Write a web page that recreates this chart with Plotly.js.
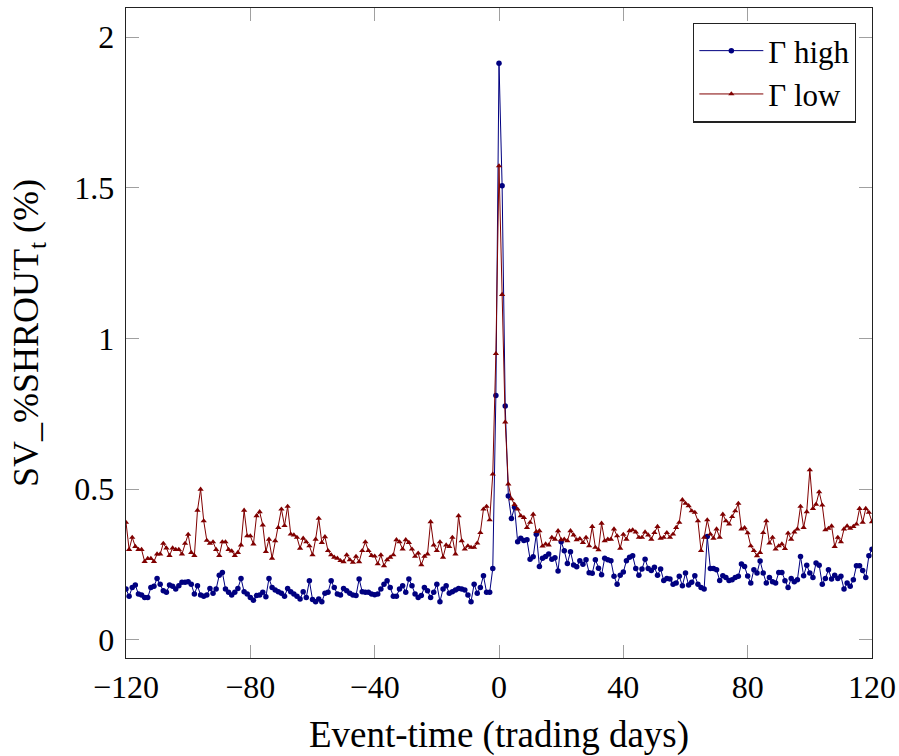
<!DOCTYPE html>
<html>
<head>
<meta charset="utf-8">
<script src="https://cdn.plot.ly/plotly-3.0.1.min.js"></script>
<style>html,body{margin:0;padding:0;background:#fff;}#chart{width:899px;height:756px;}</style>
</head>
<body>
<div id="chart"></div>
<script>
// Event-time axis: trading days -120 ... 120
const eventStart = -120;
const eventEnd = 120;

// SV_%SHROUT_t (%) for the Gamma-high group, event days -120 ... 120
const gammaHigh = [
  0.169, 0.145, 0.174, 0.182, 0.152, 0.149, 0.141, 0.141, 0.174, 0.178,
  0.204, 0.185, 0.163, 0.158, 0.182, 0.178, 0.169, 0.180, 0.191, 0.191,
  0.193, 0.185, 0.152, 0.180, 0.149, 0.145, 0.149, 0.171, 0.155, 0.169,
  0.215, 0.224, 0.169, 0.158, 0.149, 0.158, 0.171, 0.204, 0.160, 0.152,
  0.141, 0.132, 0.147, 0.149, 0.158, 0.143, 0.204, 0.174, 0.166, 0.160,
  0.155, 0.145, 0.171, 0.160, 0.152, 0.145, 0.136, 0.160, 0.141, 0.196,
  0.134, 0.127, 0.136, 0.127, 0.155, 0.158, 0.196, 0.174, 0.152, 0.149,
  0.171, 0.163, 0.155, 0.149, 0.147, 0.202, 0.160, 0.158, 0.158, 0.152,
  0.150, 0.152, 0.169, 0.185, 0.196, 0.174, 0.145, 0.145, 0.169, 0.180,
  0.158, 0.202, 0.180, 0.152, 0.141, 0.147, 0.174, 0.163, 0.141, 0.158,
  0.185, 0.127, 0.169, 0.180, 0.155, 0.160, 0.166, 0.171, 0.169, 0.166,
  0.149, 0.127, 0.185, 0.155, 0.174, 0.213, 0.158, 0.158, 0.237, 0.811,
  1.914,
  1.507, 0.776, 0.478, 0.403, 0.440, 0.326, 0.337, 0.330, 0.332, 0.268,
  0.276, 0.351, 0.244, 0.271, 0.277, 0.285, 0.268, 0.273, 0.229, 0.326,
  0.296, 0.254, 0.293, 0.249, 0.243, 0.263, 0.251, 0.266, 0.223, 0.221,
  0.266, 0.238, 0.216, 0.271, 0.266, 0.263, 0.211, 0.185, 0.215, 0.225,
  0.263, 0.274, 0.279, 0.237, 0.215, 0.235, 0.268, 0.237, 0.230, 0.241,
  0.215, 0.235, 0.197, 0.204, 0.202, 0.185, 0.189, 0.211, 0.180, 0.222,
  0.182, 0.191, 0.213, 0.185, 0.174, 0.169, 0.343, 0.237, 0.237, 0.233,
  0.197, 0.213, 0.207, 0.197, 0.200, 0.207, 0.211, 0.252, 0.244, 0.212,
  0.189, 0.233, 0.222, 0.262, 0.222, 0.189, 0.207, 0.193, 0.189, 0.224,
  0.224, 0.196, 0.174, 0.204, 0.193, 0.200, 0.277, 0.213, 0.248, 0.222,
  0.207, 0.255, 0.248, 0.185, 0.204, 0.233, 0.202, 0.215, 0.204, 0.211,
  0.169, 0.189, 0.178, 0.200, 0.246, 0.246, 0.230, 0.207, 0.279, 0.301
];

// SV_%SHROUT_t (%) for the Gamma-low group, event days -120 ... 120
const gammaLow = [
  0.390, 0.300, 0.340, 0.310, 0.300, 0.300, 0.260, 0.270, 0.270, 0.260,
  0.285, 0.285, 0.320, 0.305, 0.280, 0.305, 0.300, 0.300, 0.285, 0.320,
  0.350, 0.290, 0.280, 0.430, 0.500, 0.395, 0.330, 0.320, 0.325, 0.300,
  0.280, 0.325, 0.325, 0.300, 0.295, 0.280, 0.290, 0.315, 0.430, 0.345,
  0.345, 0.318, 0.412, 0.425, 0.381, 0.293, 0.334, 0.271, 0.329, 0.373,
  0.434, 0.379, 0.443, 0.351, 0.348, 0.340, 0.304, 0.337, 0.325, 0.312,
  0.282, 0.334, 0.403, 0.323, 0.342, 0.296, 0.282, 0.274, 0.271, 0.263,
  0.259, 0.282, 0.266, 0.257, 0.277, 0.259, 0.296, 0.325, 0.296, 0.280,
  0.278, 0.252, 0.282, 0.246, 0.266, 0.274, 0.282, 0.332, 0.325, 0.301,
  0.332, 0.323, 0.301, 0.277, 0.288, 0.249, 0.277, 0.285, 0.392, 0.315,
  0.296, 0.325, 0.274, 0.315, 0.310, 0.340, 0.285, 0.412, 0.329, 0.301,
  0.312, 0.307, 0.307, 0.321, 0.356, 0.434, 0.443, 0.398, 0.550, 0.950,
  1.573,
  1.146, 0.723, 0.517, 0.468, 0.449, 0.434, 0.412, 0.406, 0.373, 0.390,
  0.417, 0.359, 0.362, 0.311, 0.318, 0.315, 0.340, 0.334, 0.362, 0.332,
  0.334, 0.329, 0.362, 0.348, 0.332, 0.336, 0.323, 0.340, 0.312, 0.376,
  0.307, 0.299, 0.387, 0.329, 0.334, 0.334, 0.368, 0.345, 0.304, 0.350,
  0.334, 0.362, 0.365, 0.358, 0.340, 0.340, 0.358, 0.348, 0.334, 0.356,
  0.376, 0.337, 0.340, 0.356, 0.340, 0.351, 0.373, 0.390, 0.465, 0.453,
  0.445, 0.428, 0.423, 0.395, 0.296, 0.340, 0.398, 0.351, 0.337, 0.368,
  0.340, 0.417, 0.395, 0.384, 0.409, 0.428, 0.453, 0.368, 0.372, 0.355,
  0.312, 0.296, 0.279, 0.290, 0.356, 0.395, 0.321, 0.340, 0.301, 0.312,
  0.318, 0.303, 0.354, 0.334, 0.358, 0.368, 0.443, 0.373, 0.425, 0.564,
  0.436, 0.450, 0.491, 0.447, 0.365, 0.370, 0.378, 0.310, 0.340, 0.325,
  0.368, 0.378, 0.370, 0.376, 0.384, 0.436, 0.390, 0.436, 0.423, 0.392
];

const xTickVals = [-120, -80, -40, 0, 40, 80, 120];
const yTickVals = [0, 0.5, 1, 1.5, 2];
const seriesNames = ['\u0393 high', '\u0393 low'];

const eventDays = [];
for (let d = eventStart; d <= eventEnd; d++) eventDays.push(d);

const serif = '"Liberation Serif", serif';
const navy = '#000080';
const maroon = '#800000';

const traces = [
  {
    x: eventDays, y: gammaHigh, name: seriesNames[0], type: 'scatter', mode: 'lines+markers',
    line: {color: navy, width: 1},
    marker: {color: navy, size: 5.5, symbol: 'circle'}
  },
  {
    x: eventDays, y: gammaLow, name: seriesNames[1], type: 'scatter', mode: 'lines+markers',
    line: {color: maroon, width: 1},
    marker: {color: maroon, size: 5.5, symbol: 'triangle-up'}
  }
];

const axisCommon = {
  showgrid: false, zeroline: false,
  showline: true, linecolor: '#222', linewidth: 1.3, mirror: 'ticks',
  ticks: 'inside', ticklen: 13, tickwidth: 1, tickcolor: '#a0a0a0',
  tickfont: {family: serif, size: 32, color: '#000'}
};

const layout = {
  width: 899, height: 756,
  margin: {l: 126, r: 27, t: 8, b: 98, pad: 0},
  paper_bgcolor: '#fff', plot_bgcolor: '#fff',
  showlegend: true,
  xaxis: Object.assign({}, axisCommon, {
    range: [-120, 120], tickvals: xTickVals, automargin: false,
    ticklabelstandoff: 0,
    title: {text: 'Event-time (trading days)', font: {family: serif, size: 37, color: '#000'}, standoff: 20}
  }),
  yaxis: Object.assign({}, axisCommon, {
    range: [-0.06, 2.097], tickvals: yTickVals, automargin: false,
    ticklabelstandoff: 4,
    title: {text: 'SV_%SHROUT<sub>t</sub> (%)', font: {family: serif, size: 36, color: '#000'}, standoff: 24}
  }),
  legend: {
    x: 0.9786, y: 0.9774, xanchor: 'right', yanchor: 'top',
    bordercolor: '#222', borderwidth: 1.3, bgcolor: '#fff',
    font: {family: serif, size: 31, color: '#000'},
    itemwidth: 64,
    tracegroupgap: 0
  }
};

Plotly.newPlot('chart', traces, layout, {displayModeBar: false, staticPlot: true});
</script>
</body>
</html>
